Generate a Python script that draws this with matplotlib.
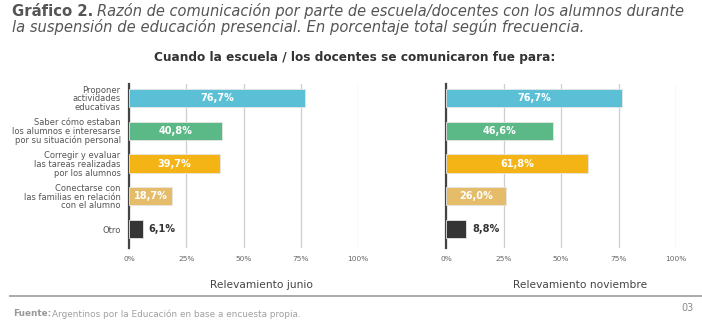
import matplotlib.pyplot as plt

# Datos del gráfico
categorias = [
    "Proponer\nactividades\neducativas",
    "Saber cómo estaban\nlos alumnos e interesarse\npor su situación personal",
    "Corregir y evaluar\nlas tareas realizadas\npor los alumnos",
    "Conectarse con\nlas familias en relación\ncon el alumno",
    "Otro",
]
junio = [76.7, 40.8, 39.7, 18.7, 6.1]
noviembre = [76.7, 46.6, 61.8, 26.0, 8.8]
etiquetas_junio = ["76,7%", "40,8%", "39,7%", "18,7%", "6,1%"]
etiquetas_noviembre = ["76,7%", "46,6%", "61,8%", "26,0%", "8,8%"]
colores = ["#5BC0D5", "#5BB987", "#F4B416", "#E4BC6A", "#353535"]
ticks = [0, 25, 50, 75, 100]
tick_labels = ["0%", "25%", "50%", "75%", "100%"]

plt.rcParams['font.family'] = ['DejaVu Sans']

W, H = 702, 324
fig = plt.figure(figsize=(W / 100, H / 100), dpi=100)
renderer = fig.canvas.get_renderer()


def ax_px(x0, x1, y0, y1):
    return fig.add_axes([x0 / W, 1 - y1 / H, (x1 - x0) / W, (y1 - y0) / H])


def texto_px(x, y, s, **kw):
    return fig.text(x / W, 1 - y / H, s, va="center", **kw)


def fin_px(t):
    bb = t.get_window_extent(renderer)
    return bb.x1


def dibujar(ax, valores, etiquetas, mostrar_cat):
    y = range(len(valores))
    ax.barh(y, valores, height=0.56, color=colores, edgecolor="#e6e6e6",
            linewidth=0.6, zorder=3)
    for i, (v, t) in enumerate(zip(valores, etiquetas)):
        if v > 12:
            ax.text(v / 2, i, t, ha="center", va="center", color="white",
                    fontsize=7, fontweight="bold", zorder=4)
        else:
            ax.text(v + 2.5, i, t, ha="left", va="center", color="#333333",
                    fontsize=7, fontweight="bold", zorder=4)
    ax.set_xlim(0, 100)
    ax.set_ylim(4.58, -0.43)
    ax.set_xticks(ticks)
    ax.set_xticklabels(tick_labels, fontsize=5.3, color="#666666")
    ax.tick_params(axis="x", length=0, pad=6)
    ax.tick_params(axis="y", length=0, pad=6)
    ax.grid(axis="x", color="#cfcfcf", linewidth=0.9, zorder=0)
    for s in ["top", "right", "bottom"]:
        ax.spines[s].set_visible(False)
    ax.spines["left"].set_color("#444444")
    ax.spines["left"].set_linewidth(1.6)
    ax.set_yticks(list(y))
    if mostrar_cat:
        ax.set_yticklabels(categorias, fontsize=6.0, color="#555555",
                           linespacing=0.95)
    else:
        ax.set_yticklabels([])


ax1 = ax_px(129, 358, 84, 248)
dibujar(ax1, junio, etiquetas_junio, True)
ax2 = ax_px(446, 676, 84, 248)
dibujar(ax2, noviembre, etiquetas_noviembre, False)

texto_px(262, 285, "Relevamiento junio", fontsize=7.7, color="#444444",
         ha="center")
texto_px(580, 285, "Relevamiento noviembre", fontsize=7.7, color="#444444",
         ha="center")

# Títulos
t = texto_px(12, 11, "Gráfico 2.", fontsize=10.7, fontweight="bold",
             color="#555555")
x_fin = fin_px(t)
texto_px(x_fin + 4, 11,
         "Razón de comunicación por parte de escuela/docentes con los alumnos durante",
         fontsize=10.55, style="italic", color="#555555")
texto_px(12, 27,
         "la suspensión de educación presencial. En porcentaje total según frecuencia.",
         fontsize=10.6, style="italic", color="#555555")
texto_px(355, 58, "Cuando la escuela / los docentes se comunicaron fue para:",
         fontsize=8.7, fontweight="bold", color="#333333", ha="center")

# Línea y fuente
fig.add_artist(plt.Line2D([10 / W, 1], [1 - 296 / H, 1 - 296 / H],
                          color="#aaaaaa", linewidth=1.4))
t = texto_px(13, 314, "Fuente:", fontsize=6.4, fontweight="bold",
             color="#999999")
x_fin = fin_px(t)
texto_px(x_fin + 1, 314,
         "Argentinos por la Educación en base a encuesta propia.",
         fontsize=6.4, color="#a0a0a0")
texto_px(694, 308, "03", fontsize=7, color="#888888", ha="right")

fig.savefig("out.png", dpi=100)
